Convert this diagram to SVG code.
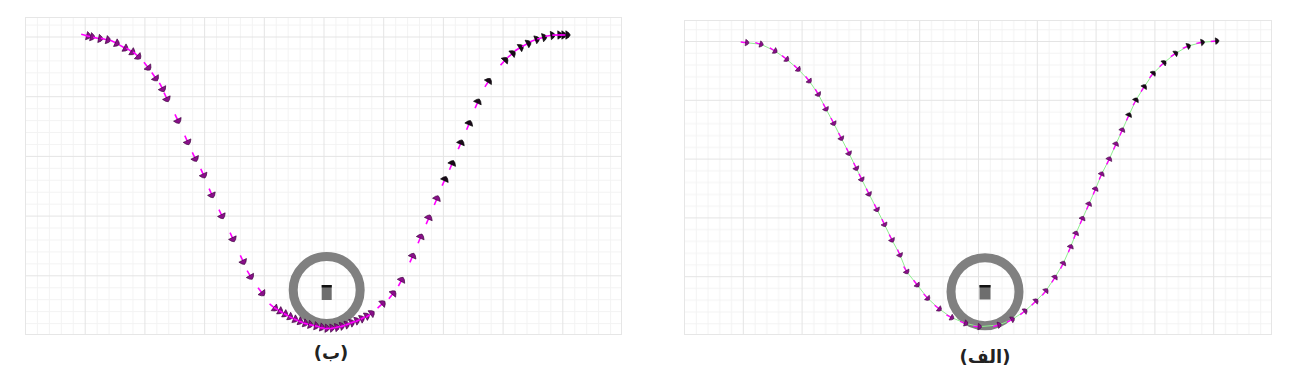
<svg xmlns="http://www.w3.org/2000/svg" width="1295" height="386" viewBox="0 0 1295 386">
<style>
.minor{stroke:#f3f3f3;stroke-width:1;fill:none}
.major{stroke:#e4e4e4;stroke-width:1;fill:none}
.frame{fill:none;stroke:#e6e6e6;stroke-width:1}
.ring{fill:none;stroke:#808080;stroke-width:9}
.box{fill:#6e6e6e}
.boxtop{fill:#111}
.lbl{font-family:"DejaVu Sans",sans-serif;font-weight:bold;font-size:18px;fill:#222;text-anchor:middle}
.trajL{fill:none;stroke:none}
.trajR{fill:none;stroke:#8fef8f;stroke-width:1}
</style>
<defs>
<pattern id="gL" x="25" y="335" width="59.7" height="59.7" patternUnits="userSpaceOnUse">
<path class="minor" d="M12.44 0V59.7M24.38 0V59.7M36.32 0V59.7M48.26 0V59.7M0 12.44H59.7M0 24.38H59.7M0 36.32H59.7M0 48.26H59.7"/>
<path class="major" d="M0.5 0V59.7M0 0.5H59.7"/>
</pattern>
<pattern id="gR" x="684" y="335" width="58.8" height="58.8" patternUnits="userSpaceOnUse">
<path class="minor" d="M12.26 0V58.8M24.02 0V58.8M35.78 0V58.8M47.54 0V58.8M0 12.26H58.8M0 24.02H58.8M0 35.78H58.8M0 47.54H58.8"/>
<path class="major" d="M0.5 0V58.8M0 0.5H58.8"/>
</pattern>
<marker id="aLp" markerUnits="userSpaceOnUse" markerWidth="30" markerHeight="30" refX="0" refY="0" viewBox="-15 -15 30 30" orient="auto" overflow="visible">
<path d="M-7 0H0" stroke="#ff00ff" stroke-width="1.6"/>
<path d="M-1.5 -4.2L1.5 -2.2L3 0L1.5 2.2L-1.5 4.2Z" fill="#8a0f8a" stroke="#3a003a" stroke-width="0.6"/>
</marker>
<marker id="aLd" markerUnits="userSpaceOnUse" markerWidth="30" markerHeight="30" refX="0" refY="0" viewBox="-15 -15 30 30" orient="auto" overflow="visible">
<path d="M-7 0H0" stroke="#ff00ff" stroke-width="1.6"/>
<path d="M-1.5 -4.2L1.5 -2.2L3 0L1.5 2.2L-1.5 4.2Z" fill="#1a0a1a" stroke="#000" stroke-width="0.6"/>
</marker>
<marker id="aRp" markerUnits="userSpaceOnUse" markerWidth="30" markerHeight="30" refX="0" refY="0" viewBox="-15 -15 30 30" orient="auto" overflow="visible">
<path d="M-6 0H0" stroke="#ff00ff" stroke-width="1.4"/>
<path d="M-1.2 -3.3L1.2 -1.8L2.4 0L1.2 1.8L-1.2 3.3Z" fill="#8a0f8a" stroke="#3a003a" stroke-width="0.5"/>
</marker>
<marker id="aRd" markerUnits="userSpaceOnUse" markerWidth="30" markerHeight="30" refX="0" refY="0" viewBox="-15 -15 30 30" orient="auto" overflow="visible">
<path d="M-6 0H0" stroke="#ff00ff" stroke-width="1.4"/>
<path d="M-1.2 -3.3L1.2 -1.8L2.4 0L1.2 1.8L-1.2 3.3Z" fill="#1a0a1a" stroke="#000" stroke-width="0.5"/>
</marker>
</defs>
<rect width="1295" height="386" fill="#fff"/>

<g id="panel-b">
<rect x="25" y="17" width="597" height="318" fill="url(#gL)"/>
<rect class="frame" x="25.5" y="17.5" width="596" height="317"/>
<g id="obstacle-b">
<circle class="ring" cx="326.7" cy="290" r="33.5"/>
<rect class="box" x="321.7" y="285" width="10" height="15"/>
<rect class="boxtop" x="321.7" y="285" width="10" height="2.5"/>
</g>
<g id="trajectory-b">
<polyline class="trajL" marker-start="url(#aLp)" marker-mid="url(#aLp)" points="88,36 92,37 100,38.7 107.7,40 116.7,43.3 125.3,48.3 132.3,52 138.3,56.7 148.3,67.7 155.7,78.3 162.7,89 167,99 178,120.7 187.7,142 195.3,158.7 203.7,175.3 212,195 222,216 233,239 243.3,261.7 250.7,276.7 262.3,293.3 275,308.3 280,311 285,314 290,316.7 295,319.3 300,321.3 305,323.3 310,324.7 316,326 321.7,327.3 326.7,328.3 331.7,328 336.7,327.3 341.7,326 346.7,324.7 351.7,322.7 356.7,320.7 361.7,318.7 366.7,316 371.7,313.3 382.7,303.3 393.3,293.3 401.7,280 412.7,256 420.8,236.8 428.9,217.7 437,198.5 445,179.3"/>
<polyline class="trajL" marker-start="url(#aLd)" marker-mid="url(#aLd)" marker-end="url(#aLd)" points="445,179.3 452.3,163.3 461,142.7 469.3,123.3 478,101.7 488.7,81 505.3,60 512.7,53.3 520.7,47.3 528.3,43.3 536.7,39.3 544,37.3 552.3,35.3 559.3,35 563.3,35 567.3,35"/>
</g>
<text class="lbl" x="331" y="359">(ب)</text>
</g>

<g id="panel-a">
<rect x="684" y="20" width="588" height="315" fill="url(#gR)"/>
<rect class="frame" x="684.5" y="20.5" width="587" height="314"/>
<g id="obstacle-a">
<circle class="ring" cx="985" cy="291.7" r="34"/>
<rect class="box" x="979.5" y="285" width="11" height="14.5"/>
<rect class="boxtop" x="979.5" y="285" width="11" height="2.5"/>
</g>
<g id="trajectory-a">
<polyline class="trajR" marker-start="url(#aRp)" marker-mid="url(#aRp)" points="746.7,42.7 761,44.3 775,51 786.7,59.3 798.3,69.3 809.3,81 818.3,94.3 826,109 833.7,123.3 841.3,138.3 849,153.3 856.3,168.3 861.7,179.3 869,194 877,209.5 884.5,224.5 892,240 900,255 906.7,271.7 917.3,285 927.7,298.3 939.3,309 951.7,317.7 965.7,323.3 979.3,326.7 999,325 1012.3,319.3 1025,311 1036,301 1046,290.7 1055,277.3 1063.3,263.3 1070.7,246.7 1076,233.3 1082.5,218.5 1089,204 1095.5,189 1101.7,174 1109.3,159 1116,144 1122.3,130 1129,115"/>
<polyline class="trajR" marker-start="url(#aRd)" marker-mid="url(#aRd)" marker-end="url(#aRd)" points="1129,115 1136,100 1144.3,86.7 1153.3,73.3 1164,62.7 1175.7,53.3 1188.3,46 1202.3,42.3 1216.7,41"/>
</g>
<text class="lbl" x="985" y="363">(الف)</text>
</g>
</svg>
